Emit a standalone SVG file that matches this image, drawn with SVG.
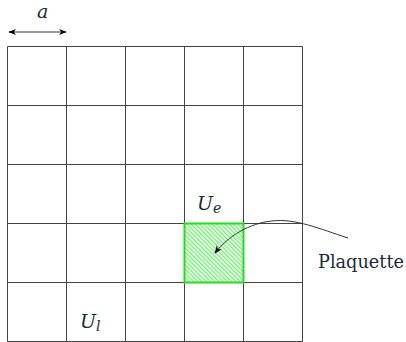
<svg xmlns="http://www.w3.org/2000/svg" width="406" height="342" viewBox="0 0 406 342">
<style>
.grid{stroke:#444;stroke-width:1;fill:none}
.m{font-family:'DejaVu Serif',serif;font-style:italic;fill:#1a2a3a}
.t{font-family:'DejaVu Serif',serif;fill:#1a2a3a}
.conn{stroke:#333;stroke-width:1;fill:none}
</style>
<defs>
<marker id="ah" viewBox="0 0 10 10" refX="9" refY="5" markerWidth="8" markerHeight="8" orient="auto-start-reverse" markerUnits="userSpaceOnUse">
<path d="M0,1 L10,5 L0,9 L3,5 Z" fill="#000"/>
</marker>
<pattern id="hatch" patternUnits="userSpaceOnUse" width="3" height="3" patternTransform="rotate(-45)">
<rect width="3" height="3" fill="#fff"/>
<line x1="0.75" y1="0" x2="0.75" y2="3" stroke="#66ee66" stroke-width="1.3"/>
</pattern>
</defs>
<rect width="406" height="342" fill="#fff"/>
<g id="grid">
<path class="grid" d="M7.5,46.5 H302.5 M7.5,105.5 H302.5 M7.5,164.5 H302.5 M7.5,223.5 H302.5 M7.5,282.5 H302.5 M7.5,341.5 H302.5 M7.5,46.5 V341.5 M66.5,46.5 V341.5 M125.5,46.5 V341.5 M184.5,46.5 V341.5 M243.5,46.5 V341.5 M302.5,46.5 V341.5"/>
</g>
<g id="plaquette-cell">
<rect x="184.5" y="223.5" width="59" height="59" fill="url(#hatch)" stroke="#22dd22" stroke-width="2"/>
</g>
<g id="connectors">
<line class="conn" x1="9" y1="32" x2="66" y2="32" marker-start="url(#ah)" marker-end="url(#ah)"/>
<path class="conn" d="M348,238 C320,229 295,218 272,221 C250,223 228,236 215,253" marker-end="url(#ah)"/>
</g>
<g id="label-a"><text class="m" x="37" y="18" font-size="19">a</text></g>
<g id="label-Ue"><text class="m" x="197" y="210" font-size="19">U<tspan font-size="14" dy="3">e</tspan></text></g>
<g id="label-Ul"><text class="m" x="80" y="328" font-size="19">U<tspan font-size="14" dy="3">l</tspan></text></g>
<g id="label-plaquette"><text class="t" x="318" y="268" font-size="18" textLength="86" lengthAdjust="spacingAndGlyphs">Plaquette</text></g>
</svg>
